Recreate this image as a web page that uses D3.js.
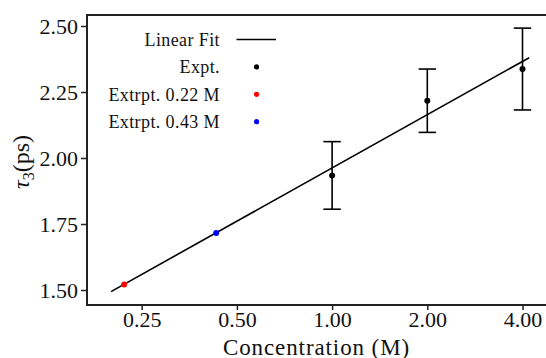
<!DOCTYPE html>
<html>
<head>
<meta charset="utf-8">
<script src="https://cdn.jsdelivr.net/npm/d3@7"></script>
<style>
  html, body { margin: 0; padding: 0; background: #fff; }
  svg { display: block; }
  svg text { font-family: 'Liberation Serif', serif; }
</style>
</head>
<body>
<svg id="chart" width="546" height="358"></svg>
<script>
// Concentrations (M) and measured tau_3 (ps) with error bars
const exptConc = [1.00, 2.00, 4.00];
const exptTau = [1.934, 2.217, 2.337];
const exptErr = [0.128, 0.120, 0.155];

// Extrapolated points
const extrapConc = [0.22, 0.43];
const extrapTau = [1.521, 1.716];
const extrapColors = ["#ff0000", "#0000ff"];

// Linear fit (in log2 concentration) endpoints
const fitConc = [0.2, 4.2];
const fitTau = [1.494, 2.380];

const xTicks = [0.25, 0.5, 1, 2, 4];
const yTicks = [1.50, 1.75, 2.00, 2.25, 2.50];

const legendLabels = ["Linear Fit", "Expt.", "Extrpt. 0.22 M", "Extrpt. 0.43 M"];

const FONT = "'Liberation Serif', serif";
const svg = d3.select("#chart").style("font-family", FONT);
const W = 546, H = 358;
const plotLeft = 87, plotTop = 15, plotBottom = 305;

const x = d3.scaleLog().base(2).domain([0.25, 4]).range([141.7, 522.5]);
const y = d3.scaleLinear().domain([1.5, 2.5]).range([290, 26]);

const axisColor = "#222";

// Axes
const xAxis = svg.append("g").attr("transform", `translate(0,${plotBottom})`)
  .call(d3.axisBottom(x).tickValues(xTicks).tickFormat(d3.format(".2f")).tickSize(5).tickPadding(4));
xAxis.select(".domain").remove();
const yAxis = svg.append("g").attr("transform", `translate(${plotLeft},0)`)
  .call(d3.axisLeft(y).tickValues(yTicks).tickFormat(d3.format(".2f")).tickSize(6).tickPadding(3));
yAxis.select(".domain").remove();
xAxis.attr("font-family", null).attr("font-size", null);
yAxis.attr("font-family", null).attr("font-size", null);

svg.selectAll(".tick line").attr("stroke", axisColor).attr("stroke-width", 1.5);
svg.selectAll(".tick text").attr("fill", "#111")
  .style("font-family", FONT).style("font-size", "22px");
xAxis.selectAll(".tick text").attr("dy", "0.6em");
yAxis.selectAll(".tick text").attr("dy", "0.34em");

// Spines: left, top, bottom (open on the right)
svg.append("line").attr("x1", plotLeft).attr("x2", plotLeft).attr("y1", plotTop - 1).attr("y2", plotBottom + 1)
  .attr("stroke", axisColor).attr("stroke-width", 2);
svg.append("line").attr("x1", plotLeft).attr("x2", W).attr("y1", plotTop).attr("y2", plotTop)
  .attr("stroke", axisColor).attr("stroke-width", 2);
svg.append("line").attr("x1", plotLeft).attr("x2", W).attr("y1", plotBottom).attr("y2", plotBottom)
  .attr("stroke", axisColor).attr("stroke-width", 2);

// Linear fit line
svg.append("line")
  .attr("x1", x(fitConc[0])).attr("y1", y(fitTau[0]))
  .attr("x2", x(fitConc[1])).attr("y2", y(fitTau[1]))
  .attr("stroke", "#000").attr("stroke-width", 1.6);

// Error bars
const capHalf = 8.7;
const eb = svg.append("g").attr("stroke", "#000").attr("stroke-width", 1.6);
exptConc.forEach((c, i) => {
  const cx = x(c), y0 = y(exptTau[i] - exptErr[i]), y1 = y(exptTau[i] + exptErr[i]);
  eb.append("line").attr("x1", cx).attr("x2", cx).attr("y1", y0).attr("y2", y1);
  eb.append("line").attr("x1", cx - capHalf).attr("x2", cx + capHalf).attr("y1", y0).attr("y2", y0);
  eb.append("line").attr("x1", cx - capHalf).attr("x2", cx + capHalf).attr("y1", y1).attr("y2", y1);
});

// Experimental points
svg.append("g").selectAll("circle").data(exptConc).join("circle")
  .attr("cx", d => x(d)).attr("cy", (d, i) => y(exptTau[i])).attr("r", 3).attr("fill", "#000");

// Extrapolated points
svg.append("g").selectAll("circle").data(extrapConc).join("circle")
  .attr("cx", d => x(d)).attr("cy", (d, i) => y(extrapTau[i])).attr("r", 3)
  .attr("fill", (d, i) => extrapColors[i]);

// Axis titles
svg.append("text").attr("x", 316.5).attr("y", 354.5).attr("text-anchor", "middle")
  .style("font-family", FONT).style("font-size", "23px").style("letter-spacing", "0.9px")
  .attr("fill", "#111").text("Concentration (M)");

const yl = svg.append("text").attr("transform", "translate(29,162) rotate(-90)")
  .attr("text-anchor", "middle").style("font-family", FONT).style("font-size", "24px")
  .attr("fill", "#111");
yl.append("tspan").style("font-style", "italic").text("τ");
yl.append("tspan").attr("dy", 5).style("font-size", "16px").text("3");
yl.append("tspan").attr("dy", -5).text("(ps)");

// Legend
const legX = 220, legY0 = 39.5, legStep = 27.4, symX = 256.5;
const leg = svg.append("g");
legendLabels.forEach((lab, i) => {
  const ly = legY0 + i * legStep;
  leg.append("text").attr("x", legX).attr("y", ly).attr("dy", "0.35em")
    .attr("text-anchor", "end").style("font-family", FONT).style("font-size", "18px")
    .style("letter-spacing", "0.4px").attr("fill", "#111").text(lab);
  if (i === 0) {
    leg.append("line").attr("x1", 236.5).attr("x2", 276).attr("y1", ly).attr("y2", ly)
      .attr("stroke", "#000").attr("stroke-width", 1.6);
  } else {
    const col = i === 1 ? "#000" : extrapColors[i - 2];
    leg.append("circle").attr("cx", symX).attr("cy", ly).attr("r", 2.6).attr("fill", col);
  }
});
</script>
</body>
</html>
